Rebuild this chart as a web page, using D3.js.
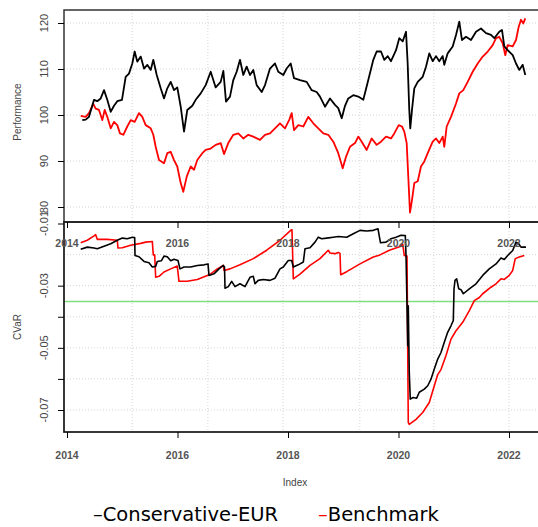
<!DOCTYPE html>
<html>
<head>
<meta charset="utf-8">
<script src="https://cdn.jsdelivr.net/npm/d3@7"></script>
<style>
  body { margin: 0; background: #fff; }
  svg { display: block; }
  text { font-family: "Liberation Sans", "DejaVu Sans", sans-serif; fill: #444; }
</style>
</head>
<body>
<svg width="538" height="527"></svg>
<script>
// [year, value] pairs
var fundPerf = [
  [2014.277, 98.9], [2014.338, 99.0], [2014.398, 99.6], [2014.489, 103.3], [2014.548, 103.0],
  [2014.61, 103.6], [2014.67, 105.4], [2014.729, 103.3], [2014.791, 100.7], [2014.851, 102.0],
  [2014.91, 103.0], [2014.995, 103.3], [2015.062, 108.3], [2015.122, 109.0], [2015.182, 111.2],
  [2015.225, 113.8], [2015.272, 111.6], [2015.334, 112.7], [2015.394, 110.1], [2015.453, 110.9],
  [2015.515, 109.8], [2015.562, 112.0], [2015.624, 108.7], [2015.696, 105.8], [2015.756, 103.6],
  [2015.815, 105.8], [2015.877, 107.2], [2015.937, 105.4], [2015.996, 106.0], [2016.058, 101.8],
  [2016.118, 96.4], [2016.177, 101.1], [2016.268, 102.0], [2016.329, 103.3], [2016.42, 104.7],
  [2016.51, 106.5], [2016.601, 109.4], [2016.691, 106.0], [2016.782, 107.2], [2016.83, 109.6],
  [2016.878, 102.9], [2016.95, 104.0], [2017.01, 107.6], [2017.071, 109.4], [2017.131, 112.0],
  [2017.191, 108.7], [2017.252, 110.5], [2017.312, 108.7], [2017.372, 109.8], [2017.433, 106.5],
  [2017.524, 105.0], [2017.584, 106.5], [2017.674, 110.1], [2017.765, 111.2], [2017.824, 109.4],
  [2017.915, 108.7], [2017.976, 110.1], [2018.049, 111.2], [2018.109, 108.0], [2018.217, 107.6],
  [2018.338, 107.2], [2018.429, 105.4], [2018.519, 105.0], [2018.579, 104.0], [2018.67, 101.8],
  [2018.76, 103.6], [2018.851, 102.2], [2018.91, 101.5], [2018.972, 99.3], [2019.032, 102.0],
  [2019.091, 103.6], [2019.182, 104.3], [2019.272, 104.0], [2019.363, 103.3], [2019.453, 107.6],
  [2019.544, 112.0], [2019.605, 113.8], [2019.683, 113.8], [2019.743, 112.0], [2019.805, 112.8],
  [2019.864, 111.7], [2019.955, 114.1], [2020.014, 116.7], [2020.076, 116.0], [2020.136, 118.1],
  [2020.166, 111.2], [2020.195, 101.1], [2020.213, 97.1], [2020.244, 101.1], [2020.286, 105.8],
  [2020.348, 107.2], [2020.438, 108.3], [2020.498, 110.5], [2020.557, 113.4], [2020.619, 111.7],
  [2020.679, 112.8], [2020.738, 111.7], [2020.8, 112.8], [2020.829, 110.9], [2020.89, 113.4],
  [2020.981, 114.9], [2021.041, 117.4], [2021.1, 120.3], [2021.149, 116.3], [2021.222, 117.0],
  [2021.312, 116.3], [2021.403, 118.1], [2021.493, 118.8], [2021.584, 117.8], [2021.674, 117.4],
  [2021.734, 116.7], [2021.824, 118.1], [2021.873, 118.5], [2021.915, 114.9], [2021.976, 114.1],
  [2022.067, 113.0], [2022.127, 111.2], [2022.186, 109.8], [2022.248, 110.9], [2022.295, 108.7]
];

var benchPerf = [
  [2014.248, 99.8], [2014.338, 99.6], [2014.398, 100.4], [2014.476, 102.4], [2014.519, 101.4],
  [2014.579, 101.1], [2014.639, 98.9], [2014.682, 101.1], [2014.729, 99.6], [2014.791, 97.1],
  [2014.851, 98.5], [2014.91, 97.8], [2014.959, 96.0], [2015.019, 95.7], [2015.091, 97.5],
  [2015.153, 98.9], [2015.225, 98.5], [2015.303, 100.4], [2015.363, 99.6], [2015.424, 97.8],
  [2015.515, 97.1], [2015.562, 95.7], [2015.605, 93.1], [2015.665, 90.2], [2015.756, 89.5],
  [2015.815, 91.7], [2015.877, 92.0], [2015.937, 90.2], [2015.996, 88.8], [2016.058, 85.2],
  [2016.105, 83.3], [2016.167, 86.6], [2016.239, 88.8], [2016.299, 88.1], [2016.358, 90.2],
  [2016.449, 91.7], [2016.51, 92.4], [2016.601, 92.7], [2016.691, 93.5], [2016.782, 93.9],
  [2016.842, 91.5], [2016.919, 93.9], [2017.01, 95.7], [2017.1, 96.0], [2017.191, 94.9],
  [2017.281, 95.7], [2017.372, 95.3], [2017.493, 94.6], [2017.584, 95.7], [2017.674, 96.0],
  [2017.765, 97.1], [2017.855, 98.2], [2017.946, 97.1], [2018.024, 99.0], [2018.067, 100.4],
  [2018.109, 96.7], [2018.187, 97.8], [2018.277, 97.5], [2018.367, 99.6], [2018.458, 98.2],
  [2018.548, 97.1], [2018.639, 96.0], [2018.729, 95.7], [2018.82, 94.2], [2018.91, 91.7],
  [2018.99, 88.4], [2019.05, 90.9], [2019.122, 93.1], [2019.213, 93.9], [2019.272, 95.3],
  [2019.334, 94.2], [2019.424, 92.4], [2019.515, 94.9], [2019.605, 93.5], [2019.683, 94.2],
  [2019.774, 95.3], [2019.864, 94.9], [2019.924, 96.0], [2020.004, 97.8], [2020.063, 97.5],
  [2020.105, 96.4], [2020.148, 93.9], [2020.177, 86.6], [2020.208, 78.8], [2020.244, 81.5],
  [2020.286, 85.2], [2020.348, 85.6], [2020.407, 88.8], [2020.467, 89.9], [2020.529, 91.7],
  [2020.619, 94.2], [2020.679, 94.9], [2020.738, 93.9], [2020.8, 95.3], [2020.829, 93.1],
  [2020.872, 97.5], [2020.95, 99.6], [2021.041, 102.5], [2021.1, 104.7], [2021.173, 105.4],
  [2021.252, 107.2], [2021.343, 109.4], [2021.434, 111.2], [2021.524, 112.7], [2021.615, 113.8],
  [2021.705, 115.2], [2021.765, 116.7], [2021.824, 117.0], [2021.886, 115.6], [2021.933, 113.0],
  [2021.976, 115.2], [2022.067, 114.9], [2022.127, 116.3], [2022.176, 119.2], [2022.217, 120.7],
  [2022.259, 119.9], [2022.295, 121.0]
];

var fundCvar = [
  [2014.248, -0.0183], [2014.367, -0.0176], [2014.489, -0.0179], [2014.548, -0.0181], [2014.67, -0.0173],
  [2014.791, -0.0165], [2014.91, -0.0154], [2015.001, -0.0147], [2015.091, -0.0149], [2015.182, -0.0144],
  [2015.225, -0.0145], [2015.231, -0.0203], [2015.303, -0.0207], [2015.394, -0.0222], [2015.484, -0.0226],
  [2015.544, -0.0240], [2015.605, -0.0238], [2015.634, -0.0222], [2015.707, -0.0220], [2015.756, -0.0205],
  [2015.815, -0.0207], [2015.877, -0.0220], [2015.937, -0.0215], [2016.009, -0.0219], [2016.045, -0.0246],
  [2016.118, -0.0240], [2016.239, -0.0240], [2016.358, -0.0235], [2016.48, -0.0233], [2016.552, -0.0230],
  [2016.57, -0.0267], [2016.661, -0.0262], [2016.751, -0.0246], [2016.829, -0.0235], [2016.851, -0.0240],
  [2016.86, -0.0308], [2016.919, -0.0303], [2016.981, -0.0286], [2017.041, -0.0303], [2017.131, -0.0294],
  [2017.222, -0.0303], [2017.312, -0.0273], [2017.372, -0.0270], [2017.403, -0.0294], [2017.462, -0.0283],
  [2017.553, -0.0280], [2017.674, -0.0283], [2017.765, -0.0276], [2017.855, -0.0246], [2017.915, -0.0240],
  [2018.005, -0.0219], [2018.067, -0.0219], [2018.096, -0.0240], [2018.187, -0.0233], [2018.277, -0.0224],
  [2018.308, -0.0181], [2018.398, -0.0178], [2018.489, -0.0160], [2018.548, -0.0144], [2018.61, -0.0149],
  [2018.7, -0.0147], [2018.82, -0.0144], [2018.91, -0.0142], [2019.062, -0.0144], [2019.182, -0.0133],
  [2019.303, -0.0122], [2019.424, -0.0124], [2019.544, -0.0122], [2019.629, -0.0117], [2019.674, -0.0162],
  [2019.774, -0.0160], [2019.864, -0.0149], [2019.955, -0.0144], [2020.045, -0.0138], [2020.123, -0.0139],
  [2020.136, -0.0203], [2020.154, -0.0364], [2020.167, -0.0493], [2020.177, -0.0365], [2020.195, -0.0579],
  [2020.213, -0.0665], [2020.262, -0.0660], [2020.329, -0.0662], [2020.376, -0.0643], [2020.467, -0.0633],
  [2020.529, -0.0622], [2020.588, -0.0601], [2020.648, -0.0568], [2020.71, -0.0536], [2020.769, -0.0515],
  [2020.829, -0.0482], [2020.89, -0.0450], [2020.95, -0.0429], [2020.992, -0.0412], [2021.005, -0.0310],
  [2021.023, -0.0283], [2021.053, -0.0278], [2021.09, -0.0310], [2021.131, -0.0313], [2021.173, -0.0326],
  [2021.282, -0.0310], [2021.403, -0.0294], [2021.524, -0.0267], [2021.643, -0.0246], [2021.765, -0.0230],
  [2021.855, -0.0211], [2021.915, -0.0216], [2021.976, -0.0203], [2022.067, -0.0187], [2022.127, -0.0160],
  [2022.176, -0.0165], [2022.217, -0.0176], [2022.308, -0.0176]
];

var benchCvar = [
  [2014.248, -0.0162], [2014.367, -0.0154], [2014.489, -0.0140], [2014.519, -0.0136], [2014.548, -0.0151],
  [2014.729, -0.0151], [2014.91, -0.0154], [2014.923, -0.0179], [2015.001, -0.0178], [2015.153, -0.0170],
  [2015.334, -0.0164], [2015.424, -0.0160], [2015.544, -0.0158], [2015.562, -0.0201], [2015.587, -0.0201],
  [2015.605, -0.0273], [2015.665, -0.0270], [2015.756, -0.0256], [2015.877, -0.0246], [2015.996, -0.0237],
  [2016.027, -0.0286], [2016.177, -0.0286], [2016.358, -0.0280], [2016.539, -0.0267], [2016.601, -0.0262],
  [2016.72, -0.0246], [2016.829, -0.0235], [2016.842, -0.0251], [2016.95, -0.0246], [2017.131, -0.0233],
  [2017.372, -0.0213], [2017.614, -0.0186], [2017.855, -0.0154], [2018.049, -0.0122], [2018.072, -0.0120],
  [2018.096, -0.0278], [2018.217, -0.0263], [2018.398, -0.0235], [2018.579, -0.0213], [2018.729, -0.0186],
  [2018.76, -0.0195], [2018.851, -0.0197], [2018.91, -0.0193], [2018.941, -0.0196], [2018.954, -0.0265],
  [2019.062, -0.0255], [2019.303, -0.0230], [2019.544, -0.0208], [2019.665, -0.0201], [2019.834, -0.0186],
  [2020.045, -0.0173], [2020.076, -0.0166], [2020.105, -0.0203], [2020.154, -0.0205], [2020.177, -0.0740],
  [2020.195, -0.0746], [2020.317, -0.0730], [2020.438, -0.0708], [2020.557, -0.0676], [2020.648, -0.0622],
  [2020.71, -0.0586], [2020.769, -0.0570], [2020.86, -0.0525], [2020.95, -0.0472], [2021.041, -0.0445],
  [2021.162, -0.0418], [2021.282, -0.0380], [2021.372, -0.0348], [2021.463, -0.0338], [2021.524, -0.0326],
  [2021.674, -0.0305], [2021.765, -0.0294], [2021.855, -0.0278], [2021.915, -0.0280], [2022.005, -0.0267],
  [2022.067, -0.0251], [2022.113, -0.0213], [2022.186, -0.0208], [2022.277, -0.0203]
];

var cvarLimit = -0.0351;
var yearTicks = [2014, 2016, 2018, 2020, 2022];
var gridYears = [2015.18, 2016.55, 2017.91, 2019.30, 2020.64, 2022.0];
var perfTicks = [80, 90, 100, 110, 120];
var cvarTicks = [-0.01, -0.03, -0.04, -0.05, -0.06, -0.07];
var cvarLabels = [-0.01, -0.03, -0.05, -0.07];
var cvarGrid = [-0.02, -0.03, -0.04, -0.05, -0.06, -0.07];
var seriesNames = ["Conservative-EUR", "Benchmark"];
var seriesColors = ["#000", "#ff0000"];

var svg = d3.select("svg"),
    left = 64, right = 560,
    top1 = 10, bot1 = 222,
    top2 = 222, bot2 = 432;

var x = d3.scaleLinear().domain([2014, 2022]).range([67, 509]);
var y1 = d3.scaleLinear().domain([80, 120]).range([207, 23]);
var y2 = d3.scaleLinear().domain([-0.07, -0.01]).range([410, 223.5]);

function gridLines(yScale, vals, t, b) {
  var g = svg.append("g").attr("stroke", "#d4d4d4").attr("stroke-dasharray", "1,2").attr("stroke-width", 1);
  g.selectAll(".gx").data(gridYears).enter().append("line")
    .attr("x1", d => x(d)).attr("x2", d => x(d)).attr("y1", t).attr("y2", b);
  g.selectAll(".gy").data(vals).enter().append("line")
    .attr("x1", left).attr("x2", right).attr("y1", d => yScale(d)).attr("y2", d => yScale(d));
}
gridLines(y1, perfTicks, top1, bot1);
gridLines(y2, cvarGrid, top2, bot2);

// green limit line
svg.append("line")
  .attr("x1", left).attr("x2", right)
  .attr("y1", y2(cvarLimit)).attr("y2", y2(cvarLimit))
  .attr("stroke", "#7fdc7f").attr("stroke-width", 1.5);

var line1 = d3.line().x(d => x(d[0])).y(d => y1(d[1]));
var line2 = d3.line().x(d => x(d[0])).y(d => y2(d[1]));

[benchPerf, fundPerf].forEach(function(s, i) {
  svg.append("path").datum(s).attr("d", line1)
    .attr("fill", "none").attr("stroke", i == 0 ? seriesColors[1] : seriesColors[0])
    .attr("stroke-width", 1.8).attr("stroke-linejoin", "round");
});
[benchCvar, fundCvar].forEach(function(s, i) {
  svg.append("path").datum(s).attr("d", line2)
    .attr("fill", "none").attr("stroke", i == 0 ? seriesColors[1] : seriesColors[0])
    .attr("stroke-width", 1.6).attr("stroke-linejoin", "round");
});

// panel boxes
svg.append("rect").attr("x", left).attr("y", top1).attr("width", right - left).attr("height", bot1 - top1)
  .attr("fill", "none").attr("stroke", "#333").attr("stroke-width", 1.5);
svg.append("rect").attr("x", left).attr("y", top2).attr("width", right - left).attr("height", bot2 - top2)
  .attr("fill", "none").attr("stroke", "#222").attr("stroke-width", 1.8);

// y axes
svg.append("g").attr("transform", "translate(" + left + ",0)")
  .call(d3.axisLeft(y1).tickValues(perfTicks).tickSize(6).tickFormat(""))
  .call(g => g.select(".domain").remove());
svg.append("g").attr("transform", "translate(" + left + ",0)")
  .call(d3.axisLeft(y2).tickValues(cvarTicks).tickSize(6).tickFormat(""))
  .call(g => g.select(".domain").remove());

svg.selectAll(".plab").data(perfTicks).enter().append("text")
  .attr("transform", d => "translate(48," + y1(d) + ") rotate(-90)")
  .attr("text-anchor", "middle").attr("font-size", 11).text(d => d);
svg.selectAll(".clab").data(cvarLabels).enter().append("text")
  .attr("transform", d => "translate(48," + y2(d) + ") rotate(-90)")
  .attr("text-anchor", "middle").attr("font-size", 11).text(d => d.toFixed(2));

svg.append("text").attr("transform", "translate(21,112) rotate(-90)")
  .attr("text-anchor", "middle").attr("font-size", 10).text("Performance");
svg.append("text").attr("transform", "translate(21,327) rotate(-90)")
  .attr("text-anchor", "middle").attr("font-size", 10).text("CVaR");

// x axes
svg.append("g").attr("transform", "translate(0," + bot1 + ")")
  .call(d3.axisBottom(x).tickValues(yearTicks).tickSize(6).tickFormat(""))
  .call(g => g.select(".domain").remove());
svg.append("g").attr("transform", "translate(0," + bot2 + ")")
  .call(d3.axisBottom(x).tickValues(yearTicks).tickSize(6).tickFormat(""))
  .call(g => g.select(".domain").remove());

svg.selectAll(".xl1").data(yearTicks).enter().append("text")
  .attr("x", d => x(d)).attr("y", 247).attr("text-anchor", "middle")
  .attr("font-size", 10.5).attr("font-weight", "bold").style("fill", "#555").text(d => d);
svg.selectAll(".xl2").data(yearTicks).enter().append("text")
  .attr("x", d => x(d)).attr("y", 459).attr("text-anchor", "middle")
  .attr("font-size", 10.5).attr("font-weight", "bold").style("fill", "#555").text(d => d);

svg.append("text").attr("x", 295).attr("y", 486).attr("text-anchor", "middle")
  .attr("font-size", 10).text("Index");

// legend
var leg = svg.append("g");
var legX = [93, 318];
leg.selectAll("text").data(seriesNames).enter().append("text")
  .attr("x", (d, i) => legX[i]).attr("y", 521)
  .attr("font-size", 19.5).style("font-family", "'DejaVu Sans', sans-serif").style("fill", "#000")
  .each(function(d, i) {
    d3.select(this).append("tspan").style("fill", seriesColors[i]).text("\u2013");
    d3.select(this).append("tspan").style("fill", "#000").text(d);
  });
</script>
</body>
</html>
